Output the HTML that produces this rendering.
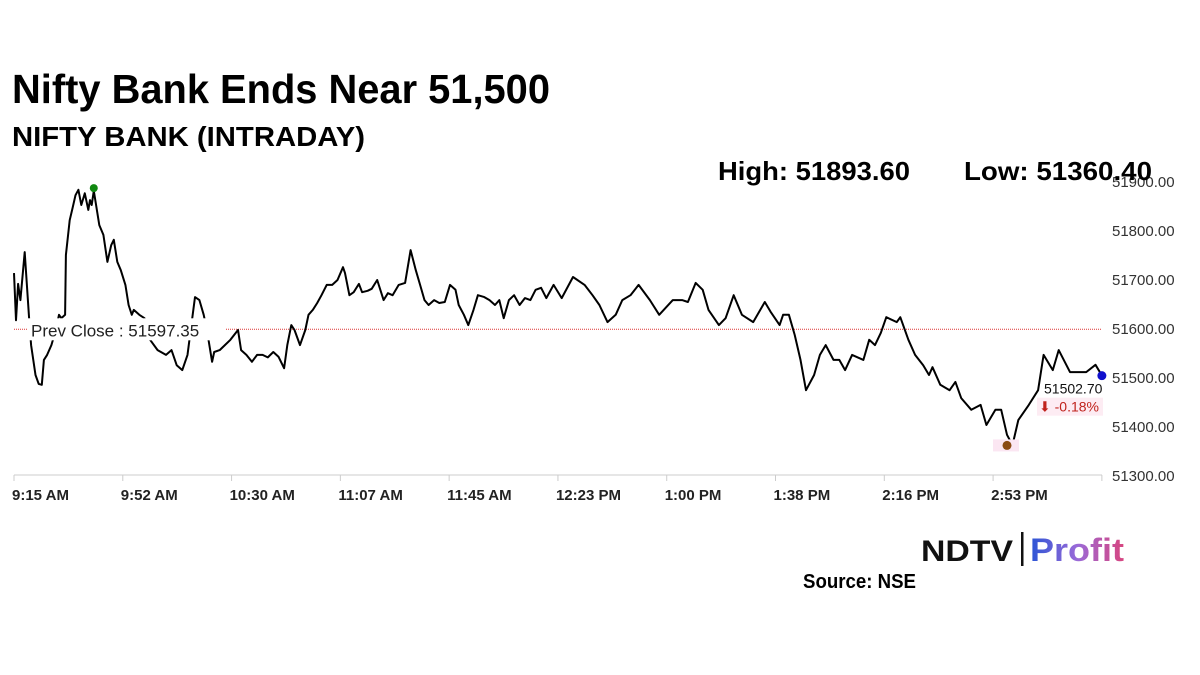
<!DOCTYPE html>
<html><head><meta charset="utf-8"><style>
body{margin:0;background:#fff;width:1200px;height:675px;overflow:hidden}
svg{display:block}
text{font-family:"Liberation Sans",sans-serif}
</style></head><body>
<svg id="chart" width="1200" height="675">
<text x="12" y="103" font-size="41" font-weight="bold" textLength="538" lengthAdjust="spacingAndGlyphs">Nifty Bank Ends Near 51,500</text>
<text x="12" y="146" font-size="28" font-weight="bold" textLength="353" lengthAdjust="spacingAndGlyphs">NIFTY BANK (INTRADAY)</text>
<g id="axes"></g>
<g id="plot"></g>
<text x="718" y="180" font-size="26" font-weight="bold" textLength="192" lengthAdjust="spacingAndGlyphs">High: 51893.60</text>
<text x="964" y="180" font-size="26" font-weight="bold" textLength="188" lengthAdjust="spacingAndGlyphs">Low: 51360.40</text>
<g>
<text x="921" y="561" font-size="30" font-weight="bold" textLength="92" lengthAdjust="spacingAndGlyphs" fill="#111">NDTV</text>
<rect x="1021" y="532" width="2.5" height="34" fill="#111"/>
<defs><linearGradient id="pg" x1="0" x2="1"><stop offset="0" stop-color="#2b55d6"/><stop offset="0.5" stop-color="#9a6ad8"/><stop offset="1" stop-color="#d8457f"/></linearGradient></defs>
<text x="1030" y="561" font-size="32" font-weight="bold" textLength="94" lengthAdjust="spacingAndGlyphs" fill="url(#pg)">Profit</text>
</g>
<text x="803" y="588" font-size="20" font-weight="bold" textLength="113" lengthAdjust="spacingAndGlyphs">Source: NSE</text>
</svg>
<script>
const yTicks=[51300,51400,51500,51600,51700,51800,51900];
const xTickLabels=["9:15 AM","9:52 AM","10:30 AM","11:07 AM","11:45 AM","12:23 PM","1:00 PM","1:38 PM","2:16 PM","2:53 PM"];
const xTickMinutes=[0,37.5,75,112.5,150,187.5,225,262.5,300,337.5];
const prevClose=51597.35;
const highVal=51893.6, highT=27.5;
const lowVal=51360.4, lowT=342.3;
const lastVal=51502.7, lastT=375;
const times=[0,0.7,1.4,2.2,3.7,5.2,5.9,7.4,8.5,9.6,10.3,11.4,12.9,14.4,15.5,16.3,17.6,17.9,19.2,20.2,21.2,22.2,23.2,24.4,25.6,26.2,26.8,27.5,29.4,30.8,32.2,33.5,34.4,35.6,36.8,38.4,39.5,40.6,41.3,43.2,45.0,46.9,49.5,52.4,54.3,56.1,58.0,59.8,60.9,62.4,63.9,65.4,66.5,68.3,69.0,70.9,72.7,74.6,77.2,78.3,80.1,82.0,83.8,85.7,87.5,89.4,91.2,93.1,94.2,95.6,96.7,98.6,100.4,101.5,103.0,104.5,106.0,107.8,109.7,111.5,113.4,114.1,115.6,117.1,118.9,120.0,121.9,123.3,125.2,127.4,128.9,130.5,132.6,134.8,136.7,138.5,140.0,141.5,142.9,144.8,146.6,148.5,150.3,152.2,153.3,155.1,156.6,158.4,159.9,162.1,163.9,165.8,167.3,168.8,170.6,172.4,174.3,176.1,178.0,179.8,181.7,183.5,186.0,188.8,192.7,196.7,199.4,201.8,204.6,207.4,209.7,212.5,215.3,219.2,222.4,227.1,230.3,232.3,235.0,237.4,239.4,243.0,245.3,248.1,250.9,254.8,258.8,260.8,263.9,265.1,267.1,269.1,271.1,273.0,275.8,277.8,279.8,282.5,284.5,286.5,288.9,292.8,294.8,296.8,298.8,300.7,304.3,305.5,308.3,310.6,313.4,315.4,316.6,319.3,322.5,324.5,326.5,330.0,333.2,335.2,338.3,340.3,342.3,344.2,346.2,349.8,353.0,354.9,358.1,360.1,364.0,366.8,369.6,372.8,375];
const values=[51712,51616,51690,51657,51755,51620,51565,51504,51486,51484,51535,51545,51565,51596,51627,51620,51627,51749,51820,51845,51871,51882,51851,51875,51841,51861,51851,51880,51810,51790,51735,51769,51780,51735,51718,51688,51647,51627,51637,51627,51620,51576,51555,51545,51555,51524,51514,51545,51596,51663,51657,51627,51596,51531,51551,51555,51565,51576,51596,51555,51545,51531,51545,51545,51540,51551,51541,51518,51565,51606,51596,51565,51596,51627,51637,51651,51667,51688,51688,51698,51724,51712,51667,51673,51690,51673,51676,51680,51698,51657,51671,51667,51688,51692,51759,51718,51688,51657,51647,51657,51651,51653,51688,51678,51647,51627,51606,51637,51667,51663,51657,51647,51657,51620,51657,51667,51647,51661,51657,51678,51682,51661,51688,51661,51704,51688,51667,51647,51612,51627,51657,51667,51688,51657,51627,51657,51657,51653,51692,51678,51637,51606,51620,51667,51627,51612,51653,51633,51606,51627,51627,51586,51535,51473,51504,51545,51565,51535,51535,51514,51545,51535,51576,51565,51590,51622,51612,51622,51576,51545,51524,51504,51520,51484,51473,51490,51457,51433,51443,51402,51433,51433,51382,51361,51412,51443,51473,51545,51514,51555,51510,51510,51510,51525,51503];
const X=t=>14+t*2.901;
const Y=v=>475-(v-51300)*0.49;
const NS="http://www.w3.org/2000/svg";
const axes=document.getElementById('axes'), plot=document.getElementById('plot');
function mk(tag,attrs,parent){const e=document.createElementNS(NS,tag);for(const k in attrs)e.setAttribute(k,attrs[k]);parent.appendChild(e);return e;}
const xa=mk('line',{x1:14,x2:1102,y1:475,y2:475,stroke:'#ccc','stroke-width':1},axes);


xTickMinutes.forEach((m,i)=>{
  const tk=mk('line',{x1:X(m),x2:X(m),y1:475,y2:481,stroke:'#ccc'},axes);
  
  
  const tx=mk('text',{x:X(m)-2,y:500,'font-size':15,'font-weight':'bold',fill:'#222'},axes);
  tx.textContent=xTickLabels[i];
  
  
});
mk('line',{x1:X(375),x2:X(375),y1:475,y2:481,stroke:'#ccc'},axes);
yTicks.forEach(v=>{
  const tx=mk('text',{x:1112,y:Y(v)+6,'font-size':15,fill:'#333'},axes);
  tx.textContent=v.toFixed(2);
  
  
});
const pl=mk('line',{x1:14,x2:1102,y1:Y(prevClose),y2:Y(prevClose),stroke:'#d33','stroke-width':1,'stroke-dasharray':'1,1'},plot);


const d=times.map((t,i)=>(i?'L':'M')+X(t).toFixed(1)+','+Y(values[i]).toFixed(1)).join('');
const ln=mk('path',{d:d,fill:'none',stroke:'#000','stroke-width':2,'stroke-linejoin':'round'},plot);


mk('rect',{x:27,y:Y(prevClose)-11,width:198,height:22,fill:'#fff'},plot);
const lt=mk('text',{x:31,y:Y(prevClose)+7,'font-size':17,fill:'#222'},plot);
lt.textContent='Prev Close : '+prevClose.toFixed(2);


const hm=mk('circle',{cx:X(highT),cy:Y(highVal)+4,r:4,fill:'#118811'},plot);


mk('rect',{x:X(lowT)-14,y:Y(lowVal)-6,width:26,height:12,fill:'#fbe6f2'},plot);
const lm=mk('circle',{cx:X(lowT),cy:Y(lowVal),r:4.5,fill:'#8a4a12'},plot);


const bm=mk('circle',{cx:X(lastT),cy:Y(lastVal),r:4.5,fill:'#1010cc'},plot);


const lv=mk('text',{x:1044,y:Y(lastVal)+18,'font-size':14,fill:'#111'},plot);
lv.textContent=lastVal.toFixed(2);


mk('rect',{x:1037,y:Y(lastVal)+22,width:66,height:18,fill:'#fdecf3'},plot);
const pc=mk('text',{x:1039,y:Y(lastVal)+36,'font-size':14,fill:'#c0221c'},plot);
pc.textContent='⬇ '+((lastVal-prevClose)/prevClose*100).toFixed(2)+'%';


</script>
</body></html>
